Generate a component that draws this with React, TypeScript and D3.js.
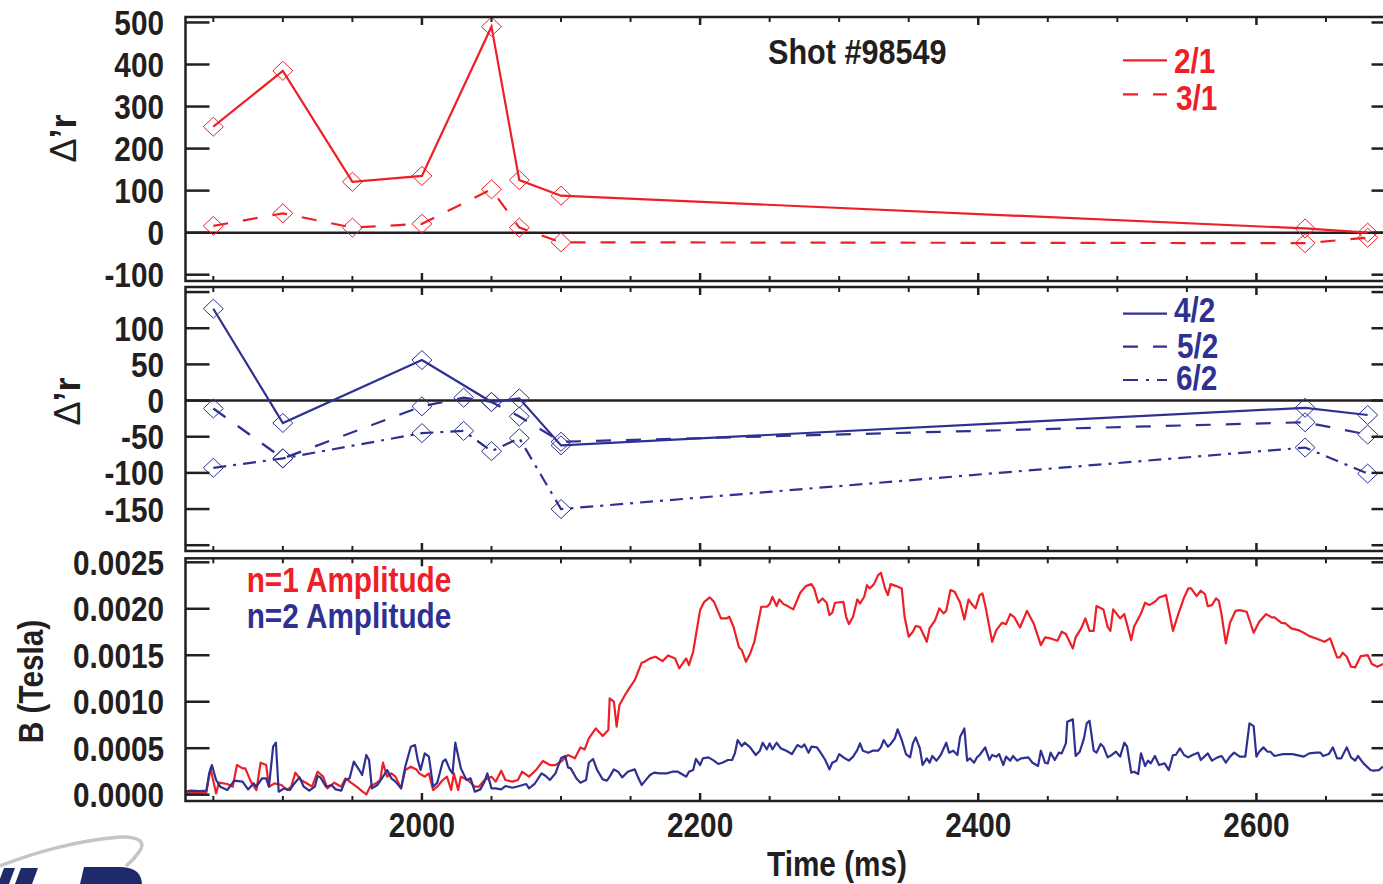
import React from "react";
import * as d3 from "d3";

// ---------- Top panel: Δ'r for n=1 modes ----------
const timesN1 = [1850, 1900, 1950, 2000, 2050, 2070, 2100, 2635, 2680];
const dr21 = [252, 385, 121, 135, 490, 125, 88, 10, 0];
const dr31 = [16, 46, 12, 21, 103, 12, -23, -25, -12];

// ---------- Middle panel: Δ'r for n=2 modes ----------
const times42 = [1850, 1900, 2000, 2050, 2070, 2100, 2635, 2680];
const dr42 = [127, -31, 56, -2, 3, -62, -10, -20];
const times5262 = [1850, 1900, 2000, 2030, 2050, 2070, 2100, 2635, 2680];
const dr52 = [-11, -80, -8, 4, -2, -22, -57, -30, -47];
const dr62 = [-93, -80, -45, -42, -70, -52, -150, -65, -101];

// ---------- Bottom panel: amplitudes [time ms, B in gauss (1e-4 T)] ----------
const n1Amplitude: [number, number][] = [
  [1829, 0.14], [1845, 0.25], [1848, 2.83], [1852, 0.14], [1854, 1.29], [1860, 1.15], [1864, 0.86], [1867, 3.19],
  [1871, 2.83], [1873, 2.83], [1877, 1.4], [1881, 0.5], [1884, 3.44], [1888, 3.19], [1890, 0.86], [1894, 1.22],
  [1899, 1.04], [1903, 0.5], [1906, 0.86], [1909, 2.37], [1913, 1.58], [1918, 1.15], [1921, 0.86], [1925, 2.47],
  [1929, 1.94], [1932, 0.68], [1937, 1.29], [1942, 0.86], [1945, 1.76], [1949, 1.29], [1953, 0.86], [1956, 0.5],
  [1960, 0.02], [1963, 0.93], [1967, 1.22], [1970, 1.58], [1972, 3.44], [1975, 1.94], [1978, 2.29], [1981, 1.94],
  [1985, 0.68], [1988, 2.65], [1992, 3.01], [1996, 2.72], [1998, 2.29], [2002, 1.94], [2005, 2.29], [2008, 0.5],
  [2011, 0.86], [2015, 1.58], [2018, 1.94], [2021, 0.5], [2023, 2.29], [2026, 0.5], [2028, 1.94], [2033, 1.58],
  [2038, 0.86], [2041, 0.86], [2045, 1.58], [2050, 1.94], [2053, 1.4], [2057, 2.58], [2060, 1.58], [2065, 1.4],
  [2069, 1.58], [2072, 2.47], [2077, 1.94], [2082, 2.65], [2087, 3.62], [2092, 3.19], [2096, 3.19], [2100, 3.55],
  [2105, 4.27], [2110, 3.91], [2114, 5.09],
  [2117, 4.87], [2120, 6.06], [2125, 7.13], [2130, 6.31], [2134, 6.95], [2135, 10.36], [2138, 10.0], [2140, 7.31],
  [2142, 9.64], [2146, 10.72], [2149, 11.43], [2153, 12.33], [2158, 14.19], [2160, 14.3], [2164, 14.66], [2168, 14.84],
  [2173, 14.37], [2177, 14.98], [2182, 14.66], [2185, 13.58], [2190, 14.66], [2192, 13.94], [2195, 15.38], [2200, 19.86],
  [2203, 20.75], [2207, 21.22], [2210, 20.75], [2215, 18.96], [2219, 18.96], [2221, 19.14], [2224, 18.06], [2228, 15.84],
  [2230, 15.56], [2233, 14.3], [2236, 15.2], [2239, 16.45], [2244, 20.22], [2248, 20.22], [2250, 20.5], [2252, 21.29],
  [2255, 20.29], [2257, 21.0], [2260, 20.5], [2263, 20.29], [2267, 19.93], [2272, 21.72], [2276, 22.44], [2280, 22.65],
  [2282, 22.19], [2285, 20.65], [2288, 21.11], [2291, 20.65], [2293, 19.32], [2295, 19.57], [2297, 20.65], [2303, 20.75],
  [2305, 19.14], [2307, 18.35], [2310, 19.14], [2313, 21.0], [2315, 20.57], [2318, 21.29], [2320, 22.54], [2322, 22.19],
  [2325, 22.65], [2328, 23.62], [2330, 23.87], [2333, 22.19], [2335, 21.47], [2337, 22.65], [2341, 22.44], [2345, 22.19],
  [2347, 19.14], [2350, 16.99], [2353, 17.53], [2355, 18.14], [2358, 18.06], [2360, 17.42], [2363, 16.45], [2365, 17.89],
  [2369, 18.78], [2372, 20.04], [2375, 19.5], [2377, 19.78], [2380, 22.01], [2383, 21.83], [2387, 20.65], [2390, 18.85],
  [2393, 21.0], [2395, 20.57], [2398, 20.04],
  [2401, 21.47], [2403, 21.65], [2405, 20.39], [2410, 16.45], [2413, 17.71], [2417, 18.49], [2420, 18.35], [2423, 19.43],
  [2426, 19.07], [2430, 17.99], [2435, 19.78], [2440, 18.35], [2445, 16.09], [2448, 16.92], [2452, 16.81], [2457, 16.56],
  [2460, 17.53], [2463, 17.28], [2468, 15.73], [2470, 16.92], [2474, 17.89], [2477, 18.96], [2480, 17.63], [2483, 17.63],
  [2485, 20.29], [2490, 19.93], [2493, 18.06], [2495, 17.63], [2497, 19.93], [2502, 18.96], [2505, 19.43], [2510, 16.63],
  [2512, 18.06], [2517, 19.5], [2520, 20.65], [2523, 20.39], [2527, 20.75], [2530, 21.22], [2535, 21.47], [2540, 17.63],
  [2544, 19.5], [2548, 21.22], [2551, 22.19], [2553, 22.19], [2557, 21.36], [2560, 21.94], [2563, 21.58], [2565, 20.29],
  [2568, 20.39], [2571, 21.11], [2573, 20.86], [2575, 19.32], [2578, 16.27], [2581, 18.49], [2585, 19.78], [2588, 19.86],
  [2593, 19.68], [2598, 17.42], [2602, 18.6], [2607, 19.43], [2611, 19.07], [2613, 19.07], [2618, 18.49], [2621, 18.42],
  [2625, 17.89], [2630, 17.71], [2634, 17.42], [2638, 17.06], [2643, 16.81], [2649, 16.45], [2653, 16.81], [2658, 14.77],
  [2660, 14.77], [2662, 15.27], [2665, 14.84], [2668, 13.76], [2671, 13.69], [2675, 14.91], [2680, 15.02], [2683, 14.05],
  [2687, 13.76], [2691, 14.05],
];

const n2Amplitude: [number, number][] = [
  [1829, 0.32], [1834, 0.43], [1840, 0.39], [1845, 0.43], [1847, 2.29], [1849, 3.19], [1852, 1.58], [1855, 0.86],
  [1860, 0.5], [1865, 1.51], [1871, 1.4], [1875, 0.57], [1879, 1.22], [1881, 0.86], [1885, 1.76], [1888, 1.76],
  [1890, 0.86], [1893, 5.16], [1895, 5.59], [1897, 0.32], [1901, 0.68], [1905, 0.5], [1908, 1.15], [1912, 1.86],
  [1915, 0.86], [1919, 0.43], [1923, 0.86], [1925, 2.01], [1927, 1.86], [1931, 0.86], [1935, 1.04], [1938, 0.57],
  [1942, 0.43], [1945, 1.58], [1948, 1.76], [1951, 3.55], [1955, 2.65], [1957, 2.11], [1960, 4.27], [1962, 3.73],
  [1964, 0.68], [1968, 1.04], [1972, 1.94], [1975, 2.65], [1978, 1.76], [1981, 1.4], [1985, 0.68], [1988, 3.01],
  [1992, 5.16], [1995, 5.34], [1997, 3.73], [1999, 2.65], [2002, 4.44], [2005, 4.09], [2008, 0.86], [2011, 1.29],
  [2015, 3.55], [2017, 3.8], [2020, 2.72], [2022, 2.29], [2024, 5.59], [2028, 2.83], [2032, 1.58], [2035, 1.76],
  [2038, 0.32], [2042, 0.57], [2045, 1.4], [2047, 2.29], [2050, 0.68], [2053, 0.68], [2057, 0.57], [2060, 0.93],
  [2065, 0.75], [2070, 0.93], [2075, 1.15], [2077, 0.68], [2081, 1.15], [2086, 2.29], [2089, 2.01], [2092, 1.58],
  [2096, 2.29], [2100, 3.91], [2103, 4.16], [2105, 2.94], [2107, 2.83], [2111, 1.76], [2114, 1.29],
  [2118, 1.58], [2120, 3.44], [2123, 3.84], [2126, 2.65], [2130, 1.65], [2133, 1.51], [2135, 1.94], [2138, 2.72],
  [2141, 2.47], [2144, 1.86], [2148, 2.47], [2153, 2.72], [2155, 2.01], [2158, 1.04], [2160, 1.4], [2164, 2.11],
  [2167, 2.37], [2171, 2.29], [2176, 2.29], [2180, 2.47], [2184, 2.47], [2188, 2.11], [2190, 1.94], [2192, 2.47],
  [2195, 2.65], [2197, 3.84], [2200, 3.19], [2202, 3.91], [2206, 4.01], [2210, 3.66], [2213, 3.3], [2216, 3.44],
  [2220, 3.73], [2223, 3.73], [2225, 4.44], [2227, 5.88], [2230, 5.23], [2232, 5.59], [2236, 5.09], [2240, 4.27],
  [2243, 4.73], [2245, 5.59], [2248, 4.87], [2250, 5.52], [2252, 4.87], [2255, 5.59], [2258, 4.98], [2262, 4.73],
  [2266, 4.37], [2270, 5.34], [2273, 5.09], [2275, 5.41], [2278, 4.52], [2280, 5.16], [2284, 5.09], [2287, 4.44],
  [2290, 3.73], [2293, 2.72], [2295, 3.44], [2298, 3.66], [2300, 4.37], [2304, 3.91], [2307, 3.66], [2310, 4.09],
  [2313, 4.8], [2315, 5.52], [2317, 4.73], [2321, 4.52], [2324, 4.73], [2328, 4.73], [2330, 5.09], [2332, 5.88],
  [2335, 5.16], [2337, 5.45], [2340, 6.06], [2342, 7.03], [2345, 5.88], [2348, 4.37], [2351, 4.01], [2353, 5.52],
  [2355, 6.16], [2358, 4.98], [2360, 3.19], [2363, 3.91], [2365, 3.44], [2367, 4.16], [2370, 3.66], [2373, 4.27],
  [2377, 5.59], [2379, 4.52], [2382, 4.73], [2385, 4.27], [2387, 6.24], [2390, 7.13], [2392, 3.66], [2394, 3.91],
  [2397, 3.44], [2399, 4.01],
  [2401, 4.27], [2405, 5.09], [2408, 3.73], [2410, 4.27], [2413, 4.09], [2415, 4.37], [2418, 3.19], [2420, 4.09],
  [2423, 3.66], [2425, 4.16], [2428, 3.66], [2431, 3.91], [2436, 4.01], [2439, 3.44], [2443, 3.08], [2445, 4.73],
  [2448, 3.44], [2450, 3.37], [2452, 4.52], [2455, 3.73], [2458, 4.52], [2460, 4.44], [2463, 5.52], [2464, 7.85],
  [2468, 8.1], [2470, 4.16], [2473, 4.62], [2476, 6.06], [2478, 7.67], [2480, 7.96], [2483, 4.73], [2485, 4.52],
  [2488, 5.45], [2490, 5.16], [2493, 4.01], [2496, 4.27], [2499, 4.62], [2502, 4.09], [2505, 5.59], [2507, 5.16],
  [2510, 2.37], [2512, 2.47], [2515, 2.22], [2517, 4.44], [2520, 3.08], [2522, 3.66], [2524, 3.37], [2527, 4.16],
  [2530, 3.19], [2534, 3.37], [2537, 2.65], [2540, 4.27], [2542, 4.27], [2545, 4.98], [2548, 4.27], [2551, 4.01],
  [2554, 4.27], [2558, 4.52], [2560, 3.73], [2565, 4.44], [2568, 3.66], [2572, 4.01], [2575, 4.16], [2578, 3.44],
  [2581, 4.09], [2584, 4.52], [2588, 4.09], [2592, 4.09], [2595, 7.67], [2598, 7.38], [2600, 4.09], [2602, 4.62],
  [2605, 5.09], [2608, 4.62], [2610, 4.62], [2613, 4.16], [2619, 4.37], [2626, 4.37], [2634, 4.09], [2638, 4.44],
  [2643, 4.52], [2646, 4.52], [2648, 4.16], [2652, 4.37], [2655, 5.09], [2658, 3.91], [2661, 3.91], [2665, 5.09],
  [2668, 4.01], [2671, 3.66], [2673, 4.16], [2677, 3.37], [2682, 2.65], [2684, 2.58], [2688, 2.65], [2691, 3.01],
];

// ---------- Axes ----------
const timeDomain = [1830, 2700];
const timeMajorTicks = [2000, 2200, 2400, 2600];
const timeMinorTicks = [1850, 1900, 1950, 2050, 2100, 2150, 2250, 2300, 2350, 2450, 2500, 2550, 2650];
const topTicks = [-100, 0, 100, 200, 300, 400, 500];
const midTicks = [-200, -150, -100, -50, 0, 50, 100, 150];
const midTickLabels = [-150, -100, -50, 0, 50, 100];
const ampTicksGauss = [0, 5, 10, 15, 20, 25];

const RED = "#ed2027";
const BLUE = "#2e3192";
const INK = "#231f20";
const FONT = "'Liberation Sans', Arial, Helvetica, sans-serif";
const SX = 0.85; // condensed look

const X0 = 185.5;
const X1 = 1395.5;

const x = d3.scaleLinear().domain(timeDomain).range([X0, X1]);

function T({ x: tx, y: ty, children, fill = INK, anchor = "start", size = 35, rotate = false }: {
  x: number; y: number; children: React.ReactNode; fill?: string; anchor?: "start" | "middle" | "end"; size?: number; rotate?: boolean;
}) {
  const tr = `translate(${tx},${ty})${rotate ? " rotate(-90)" : ""} scale(${SX},1)`;
  return (
    <text transform={tr} x={0} y={0} textAnchor={anchor} fontFamily={FONT} fontWeight="bold" fontSize={size} fill={fill}>
      {children}
    </text>
  );
}

type PanelProps = {
  id: string;
  top: number;
  bottom: number;
  domain: [number, number];
  ticks: number[];
  labels: number[];
  fmt: (v: number) => string;
  zeroLine: boolean;
  children: (y: d3.ScaleLinear<number, number>) => React.ReactNode;
};

function Panel({ id, top, bottom, domain, ticks, labels, fmt, zeroLine, children }: PanelProps) {
  const y = d3.scaleLinear().domain(domain).range([bottom, top]);
  return (
    <g>
      <clipPath id={id}>
        <rect x={X0} y={top} width={X1 - X0} height={bottom - top} />
      </clipPath>
      {zeroLine && <line x1={X0} x2={X1} y1={y(0)} y2={y(0)} stroke={INK} strokeWidth={2.5} />}
      <g clipPath={`url(#${id})`}>{children(y)}</g>
      {ticks.map((t) => (
        <g key={t}>
          <line x1={X0} x2={X0 + 24} y1={y(t)} y2={y(t)} stroke={INK} strokeWidth={2.5} />
          <line x1={X1 - 24} x2={X1} y1={y(t)} y2={y(t)} stroke={INK} strokeWidth={2.5} />
        </g>
      ))}
      {labels.map((t) => (
        <T key={t} x={164} y={y(t) + 12.5} anchor="end">{fmt(t)}</T>
      ))}
      {timeMinorTicks.map((t) => (
        <g key={"m" + t}>
          <line x1={x(t)} x2={x(t)} y1={top} y2={top + 5} stroke={INK} strokeWidth={2} />
          <line x1={x(t)} x2={x(t)} y1={bottom} y2={bottom - 5} stroke={INK} strokeWidth={2} />
        </g>
      ))}
      {timeMajorTicks.map((t) => (
        <g key={"M" + t}>
          <line x1={x(t)} x2={x(t)} y1={top} y2={top + 8} stroke={INK} strokeWidth={2.5} />
          <line x1={x(t)} x2={x(t)} y1={bottom} y2={bottom - 8} stroke={INK} strokeWidth={2.5} />
        </g>
      ))}
      <rect x={X0} y={top} width={X1 - X0} height={bottom - top} fill="none" stroke={INK} strokeWidth={2.5} />
    </g>
  );
}

const diamond = "M0,-9.5 L10,0 L0,9.5 L-10,0 Z";

function Series({ times, values, y, color, dash }: { times: number[]; values: number[]; y: d3.ScaleLinear<number, number>; color: string; dash?: string }) {
  const pts = times.map((t, i) => [t, values[i]] as [number, number]);
  const line = d3.line<[number, number]>().x((d) => x(d[0])).y((d) => y(d[1]));
  return (
    <g>
      <path d={line(pts) || ""} fill="none" stroke={color} strokeWidth={2.2} strokeDasharray={dash} />
      {pts.map((d, i) => (
        <path key={i} d={diamond} transform={`translate(${x(d[0])},${y(d[1])})`} fill="none" stroke={color} strokeWidth={1} />
      ))}
    </g>
  );
}

export default function App() {
  const ampLine = (y: d3.ScaleLinear<number, number>) =>
    d3.line<[number, number]>().x((d) => x(d[0])).y((d) => y(d[1]));
  return (
    <svg width={1383} height={884} style={{ position: "absolute", left: 0, top: 0, background: "#fff" }}>
      <rect width={1383} height={884} fill="#fff" />
      <Panel id="cTop" top={17} bottom={281} domain={[-115, 513]} ticks={topTicks} labels={topTicks} fmt={(v) => String(v)} zeroLine>
        {(y) => (
          <g>
            <Series times={timesN1} values={dr21} y={y} color={RED} />
            <Series times={timesN1} values={dr31} y={y} color={RED} dash="15,15" />
          </g>
        )}
      </Panel>
      <Panel id="cMid" top={287} bottom={551} domain={[-208, 157]} ticks={midTicks} labels={midTickLabels} fmt={(v) => String(v)} zeroLine>
        {(y) => (
          <g>
            <Series times={times42} values={dr42} y={y} color={BLUE} />
            <Series times={times5262} values={dr52} y={y} color={BLUE} dash="15,15" />
            <Series times={times5262} values={dr62} y={y} color={BLUE} dash="13,7,3,7" />
          </g>
        )}
      </Panel>
      <Panel id="cBot" top={558.3} bottom={801} domain={[-0.68, 25.43]} ticks={ampTicksGauss} labels={ampTicksGauss} fmt={(v) => (v * 1e-4).toFixed(4)} zeroLine={false}>
        {(y) => (
          <g>
            <path d={ampLine(y)(n1Amplitude) || ""} fill="none" stroke={RED} strokeWidth={2.2} strokeLinejoin="round" />
            <path d={ampLine(y)(n2Amplitude) || ""} fill="none" stroke={BLUE} strokeWidth={2.2} strokeLinejoin="round" />
          </g>
        )}
      </Panel>

      {timeMajorTicks.map((t) => (
        <T key={t} x={x(t)} y={837} anchor="middle">{t}</T>
      ))}
      <T x={837} y={876} anchor="middle">Time (ms)</T>

      {/* y titles */}
      <text transform="translate(76,138.5) rotate(-90)" textAnchor="middle" fontFamily={FONT} fontSize={36} fill={INK}>
        <tspan>Δ</tspan><tspan fontWeight="bold">’r</tspan>
      </text>
      <text transform="translate(80,401.5) rotate(-90)" textAnchor="middle" fontFamily={FONT} fontSize={36} fill={INK}>
        <tspan>Δ</tspan><tspan fontWeight="bold">’r</tspan>
      </text>
      <T x={43} y={681.5} anchor="middle" rotate>B (Tesla)</T>

      <T x={768} y={64} size={36}>Shot #98549</T>

      {/* legends */}
      <line x1={1123} x2={1167} y1={60.3} y2={60.3} stroke={RED} strokeWidth={2.2} />
      <T x={1174} y={73} fill={RED}>2/1</T>
      <line x1={1123} x2={1167} y1={94.3} y2={94.3} stroke={RED} strokeWidth={2.2} strokeDasharray="15,15" />
      <T x={1176} y={110} fill={RED}>3/1</T>

      <line x1={1123} x2={1167} y1={313.7} y2={313.7} stroke={BLUE} strokeWidth={2.2} />
      <T x={1174} y={321.7} fill={BLUE}>4/2</T>
      <line x1={1123} x2={1167} y1={346.7} y2={346.7} stroke={BLUE} strokeWidth={2.2} strokeDasharray="15,15" />
      <T x={1177} y={358} fill={BLUE}>5/2</T>
      <line x1={1123} x2={1167} y1={380} y2={380} stroke={BLUE} strokeWidth={2.2} strokeDasharray="15,8,3,8" />
      <T x={1176} y={390} fill={BLUE}>6/2</T>

      <T x={246.7} y={591.7} fill={RED}>n=1 Amplitude</T>
      <T x={246.7} y={628.3} fill={BLUE}>n=2 Amplitude</T>

      {/* logo fragment */}
      <path d="M0,866 C35,852 80,840 120,837 C138,836 147,842 139,852 C135,858 131,862 126,866" fill="none" stroke="#c4c5c7" strokeWidth={3.5} />
      <path d="M4,868 L15,868 L9,884 L-2,884 Z" fill="#1f2a6b" />
      <path d="M21,868 L38,868 L32,884 L15,884 Z" fill="#1f2a6b" />
      <path d="M84,867 L118,867 C134,867 141,872 142,884 L80,884 Z" fill="#1f2a6b" />
    </svg>
  );
}
